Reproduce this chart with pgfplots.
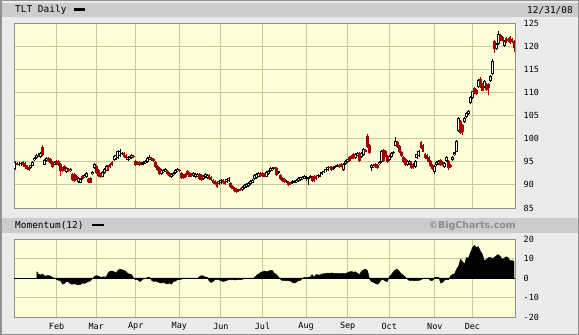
\documentclass[border=0pt]{standalone}
\usepackage{pgfplots}
\pgfplotsset{compat=1.18}
\usepackage{pgfplotstable}
\usepackage{fontspec}
\newfontfamily\pix{DejaVu Sans Mono}
\newfontfamily\bcf{DejaVu Sans}
\definecolor{bgouter}{HTML}{EBEBEB}
\definecolor{band}{HTML}{CCCCCC}
\definecolor{plotbg}{HTML}{FFFFD8}
\definecolor{gridc}{HTML}{C9C996}
\definecolor{candred}{HTML}{A00000}
\definecolor{framec}{HTML}{909090}

\pgfplotstableread{
d o h l c
0 93.4 95.1 93.2 94.9
2 94.4 94.9 94.1 94.6
3 94.3 95.0 94.1 94.8
8 93.7 94.4 93.5 94.2
9 94.1 95.1 94.0 94.9
10 95.3 96.1 95.1 95.9
11 95.9 96.7 95.7 96.4
13 96.0 97.1 95.8 96.9
15 94.4 95.6 94.2 95.4
16 95.2 96.1 95.0 95.9
20 94.4 95.2 94.2 95.0
26 92.8 93.8 92.6 93.6
28 92.9 93.6 92.7 93.4
32 90.6 91.7 90.4 91.5
33 90.5 91.4 90.3 91.2
35 91.7 92.4 91.5 92.2
36 91.6 92.7 91.4 92.5
39 92.3 93.0 92.1 92.8
40 93.6 94.8 93.4 94.6
44 91.8 93.0 91.6 92.8
45 92.6 93.6 92.4 93.4
46 93.1 94.2 92.9 94.0
50 95.4 96.4 95.2 96.2
51 95.6 96.6 95.4 96.4
52 95.9 97.5 95.7 97.3
53 96.2 97.8 96.0 97.4
54 96.6 97.1 96.4 96.8
57 95.4 96.2 95.2 96.0
58 95.6 96.3 95.4 96.1
59 95.8 96.7 95.6 96.5
64 94.4 95.0 94.2 94.8
65 94.6 95.2 94.4 95.0
66 94.7 95.4 94.5 95.2
67 95.0 96.0 94.8 95.8
68 95.6 96.4 95.4 96.1
74 92.4 93.4 92.2 93.2
75 92.8 93.5 92.6 93.3
76 92.9 93.7 92.7 93.5
79 91.7 92.6 91.5 92.4
80 92.1 92.8 91.9 92.6
81 92.5 93.4 92.3 93.2
82 92.9 93.6 92.7 93.4
90 92.0 92.7 91.8 92.5
91 91.6 92.5 91.4 92.3
92 91.8 92.6 91.6 92.4
95 91.3 92.1 91.1 91.9
96 91.6 92.5 91.4 92.3
97 91.5 92.4 91.3 92.2
103 90.2 91.1 90.0 90.9
104 90.4 91.2 90.2 91.0
107 90.6 91.4 90.4 91.2
108 90.9 91.6 90.7 91.4
115 88.9 89.7 88.7 89.5
116 89.3 90.1 89.1 89.9
117 89.5 90.4 89.3 90.2
118 89.8 90.6 89.6 90.4
119 90.2 91.0 90.0 90.8
120 90.5 91.2 90.3 91.0
121 91.2 92.3 91.0 92.1
122 91.5 92.6 91.3 92.4
123 91.8 92.7 91.6 92.5
127 91.8 93.0 91.6 92.8
128 92.3 93.3 92.1 93.1
129 92.9 93.8 92.7 93.6
130 93.2 93.9 93.0 93.7
133 92.6 93.1 92.4 92.9
137 90.7 91.1 90.5 90.9
140 90.4 91.0 90.2 90.8
141 90.5 91.1 90.3 90.9
142 90.6 91.3 90.4 91.1
143 90.8 91.6 90.6 91.4
144 91.0 91.8 90.8 91.6
145 91.2 92.0 91.0 91.8
146 91.4 92.1 91.2 91.9
147 91.3 91.9 90.9 91.7
148 91.2 91.8 90.0 91.6
149 91.6 92.1 91.4 91.9
153 91.6 92.3 91.4 92.1
154 91.8 92.4 91.6 92.2
155 92.4 93.0 92.2 92.8
156 92.8 93.2 92.6 93.0
157 93.0 93.7 92.8 93.5
158 93.3 94.0 93.1 93.8
161 93.5 94.1 93.3 93.9
162 93.8 94.3 93.6 94.1
163 94.0 94.5 93.8 94.3
166 93.3 94.8 93.1 94.6
167 94.5 95.4 94.3 95.2
168 95.0 95.7 94.8 95.5
172 95.8 96.8 95.6 96.6
173 96.4 97.1 96.2 96.9
175 96.0 97.0 95.8 96.8
176 96.4 98.0 96.2 97.8
180 93.7 94.5 92.9 94.3
181 93.9 94.6 93.7 94.4
184 94.5 95.2 94.3 95.0
185 95.0 97.6 94.8 97.4
189 95.4 96.4 95.2 96.2
190 96.0 97.1 95.8 96.9
191 96.8 97.4 96.6 97.2
192 98.5 100.3 98.3 99.5
198 94.3 95.3 94.1 95.1
199 94.6 95.4 94.4 95.2
202 93.8 95.4 93.6 95.2
203 95.8 96.8 95.6 96.6
204 96.3 97.6 96.1 97.4
212 92.8 94.2 92.4 94.0
213 94.2 95.2 94.0 95.0
214 94.6 95.4 94.4 95.2
217 93.9 95.0 93.7 94.8
218 95.2 96.2 95.0 96.0
221 95.4 96.2 95.2 96.0
222 96.4 97.2 96.2 97.0
223 97.2 99.6 97.0 99.4
224 101.6 104.7 101.4 104.5
227 103.6 104.6 103.4 104.4
228 104.6 105.7 104.4 105.5
229 105.3 106.1 105.1 105.9
230 107.6 109.2 107.4 109.0
231 108.8 110.4 108.6 110.2
234 111.2 112.8 111.0 112.6
237 111.2 112.6 111.0 112.4
240 112.4 113.7 112.2 113.5
241 113.9 117.3 113.7 116.8
243 119.4 120.7 119.2 120.5
244 120.4 123.2 120.2 122.6
247 120.1 121.4 119.9 121.2
}\up

\pgfplotstableread{
d o h l c
1 94.7 94.9 94.2 94.4
4 94.9 95.1 94.0 94.2
5 94.8 95.0 93.6 93.9
6 94.2 94.4 93.2 93.4
7 93.8 94.0 93.1 93.3
12 96.5 96.8 96.0 96.2
14 98.1 98.6 96.2 96.4
17 95.8 96.0 95.0 95.2
18 95.6 95.8 94.6 94.8
19 95.0 95.2 93.7 93.9
21 95.1 95.4 94.4 94.6
22 95.2 95.4 94.1 94.3
23 94.5 94.8 92.0 93.1
24 93.6 93.9 92.7 92.9
25 94.0 94.2 92.9 93.1
27 93.4 93.6 92.7 92.9
29 92.4 92.6 90.8 91.0
30 92.3 92.5 90.7 90.9
31 92.0 92.2 91.0 91.2
34 92.0 92.2 91.1 91.3
37 91.2 91.4 90.4 90.6
38 91.4 91.6 90.3 90.5
41 94.0 94.2 92.4 92.6
42 93.2 93.4 91.8 92.0
43 92.4 92.6 91.4 91.6
47 94.2 94.4 93.1 93.3
48 94.6 94.8 93.6 93.8
49 95.0 95.2 94.0 94.2
55 96.8 97.0 95.9 96.1
56 96.4 96.6 95.6 95.8
60 96.3 96.5 95.8 96.0
61 95.1 95.3 94.0 94.2
62 95.0 95.2 94.3 94.5
63 94.9 95.1 94.0 94.2
69 95.8 96.0 95.2 95.4
70 95.6 95.8 94.9 95.1
71 94.9 95.1 93.7 93.9
72 94.0 94.2 93.0 93.2
73 93.6 93.8 92.2 92.4
77 93.0 93.2 92.2 92.4
78 92.6 92.8 91.8 92.0
83 93.2 93.4 92.7 92.9
84 92.5 92.7 91.2 91.4
85 92.2 92.4 91.3 91.5
86 92.3 92.5 91.4 91.6
87 93.0 93.3 92.1 92.3
88 92.6 92.8 91.6 91.8
89 92.4 92.6 91.7 91.9
93 92.4 92.6 91.1 91.3
94 92.2 92.4 90.9 91.1
98 92.1 92.3 91.0 91.2
99 91.8 92.0 90.8 91.0
100 91.0 91.2 90.1 90.3
101 90.8 91.0 90.0 90.2
102 90.6 90.8 89.3 89.5
105 91.1 91.3 90.1 90.3
106 90.8 91.0 90.0 90.2
109 90.5 90.7 89.4 89.6
110 89.8 90.0 89.0 89.2
111 89.4 89.6 88.4 88.6
112 89.2 89.4 88.3 88.5
113 89.0 89.2 88.4 88.6
114 89.2 89.4 88.6 88.8
124 92.6 92.8 91.7 91.9
125 92.5 92.7 91.8 92.0
126 92.4 92.6 91.6 91.8
131 93.7 93.9 93.4 93.6
132 93.7 93.9 92.0 92.2
134 92.1 92.3 91.1 91.3
135 91.5 91.7 90.6 90.8
136 91.2 91.4 90.5 90.7
138 90.6 90.8 89.7 89.9
139 90.4 90.6 89.9 90.1
150 91.8 92.0 90.7 90.9
151 91.9 92.1 90.6 90.8
152 92.0 92.2 91.1 91.3
159 93.8 94.0 93.4 93.6
160 93.9 94.1 93.1 93.3
164 94.3 94.5 93.7 93.9
165 94.5 94.7 93.8 94.0
169 96.0 96.2 95.0 95.2
170 96.3 96.5 95.5 95.7
171 96.6 96.8 95.6 95.8
174 96.9 97.1 94.9 95.2
177 97.5 97.7 97.0 97.2
178 100.5 100.9 98.0 98.2
179 98.6 98.8 96.7 96.9
182 94.6 94.8 93.7 93.9
183 94.4 94.6 93.4 93.6
186 97.5 97.7 95.0 95.2
187 97.4 97.6 96.0 96.2
188 96.2 96.4 94.8 95.0
193 99.2 99.4 97.9 98.1
194 98.4 98.6 96.8 97.0
195 97.2 97.4 96.1 96.3
196 96.0 96.2 94.8 95.0
197 95.6 95.8 94.0 94.2
200 94.9 95.1 93.5 93.7
201 94.5 94.7 93.4 93.6
205 99.2 99.5 97.7 97.9
206 98.6 98.8 97.0 97.2
207 96.7 96.9 95.6 95.8
208 96.4 96.6 95.4 95.6
209 96.0 96.2 94.8 95.0
210 95.2 95.4 93.8 94.0
211 94.4 94.6 93.2 93.4
215 95.3 95.5 94.1 94.3
216 94.9 95.1 94.0 94.2
219 95.2 95.4 93.2 93.6
220 94.4 94.6 93.6 93.8
225 103.8 104.0 101.1 101.3
226 103.0 103.2 100.8 101.5
232 110.9 111.1 109.6 109.8
233 110.6 110.8 109.4 109.6
235 112.9 113.3 111.0 111.2
236 111.8 112.0 110.2 110.4
238 111.8 112.0 110.4 110.6
239 111.9 112.1 109.4 110.9
242 121.1 121.3 118.6 119.3
245 122.4 122.6 121.0 121.2
246 121.9 122.1 121.0 121.2
248 121.8 122.0 120.7 120.9
249 121.6 121.8 120.8 121.0
250 122.0 122.2 120.4 120.6
251 121.6 121.8 120.6 120.8
252 121.2 121.4 118.8 119.5
}\dn

\pgfplotstableread{
d m
11 3.2
12 1.8
13 1.6
14 2.0
15 0.9
16 1.2
17 1.2
18 1.0
19 0.1
20 0.0
21 -0.8
22 -1.2
23 -1.4
24 -3.2
25 -2.8
26 -1.8
27 -2.0
28 -3.0
29 -3.2
30 -2.9
31 -3.3
32 -3.5
33 -3.4
34 -2.6
35 -2.8
36 -2.4
37 -1.8
38 -1.6
39 -0.3
40 0.6
41 1.2
42 1.0
43 0.5
44 0.5
45 0.6
46 0.5
47 2.5
48 3.5
49 3.6
50 3.2
51 2.6
52 3.9
53 4.6
54 4.2
55 4.0
56 3.4
57 2.3
58 2.0
59 1.6
60 -0.4
61 -0.9
62 -0.8
63 -1.8
64 -1.2
65 -0.3
66 -0.3
67 0.4
68 0.4
69 -1.2
70 -1.8
71 -1.6
72 -2.0
73 -2.4
74 -2.6
75 -2.2
76 -2.8
77 -3.0
78 -2.6
79 -3.2
80 -1.8
81 -1.6
82 -0.9
83 -0.9
84 -0.6
85 -0.3
86 -0.3
87 -0.4
88 -0.3
89 -0.2
90 -0.3
91 -0.4
92 -0.3
93 0.5
94 1.2
95 1.1
96 0.5
97 0.5
98 -1.4
99 -2.3
100 -1.8
101 -0.9
102 -0.8
103 -0.9
104 -1.4
105 -1.8
106 -1.6
107 -1.2
108 -0.9
109 -0.8
110 -0.9
111 -1.0
112 -0.9
113 -0.8
114 -0.9
115 -0.6
116 -0.3
117 -0.3
118 -0.2
119 -0.3
120 -0.2
121 0.2
122 1.4
123 2.0
124 2.8
125 3.2
126 3.6
127 3.2
128 3.5
129 3.9
130 3.8
131 2.4
132 1.8
133 0.6
134 -0.5
135 -1.4
136 -1.4
137 -1.3
138 -1.4
139 -1.5
140 -2.2
141 -2.6
142 -2.2
143 -1.4
144 -1.3
145 -0.4
146 0.3
147 0.2
148 0.3
149 0.3
150 1.8
151 0.4
152 1.8
153 1.6
154 1.5
155 2.1
156 2.2
157 2.3
158 2.5
159 2.4
160 2.6
161 2.4
162 2.3
163 2.4
164 2.2
165 2.3
166 2.4
167 2.2
168 2.8
169 3.2
170 3.3
171 3.0
172 3.2
173 2.4
174 1.8
175 3.5
176 4.2
177 4.6
178 3.8
179 -0.3
180 -1.8
181 -2.2
182 -2.8
183 -3.2
184 -2.4
185 -0.9
186 -0.8
187 -1.6
188 -1.8
189 0.5
190 1.8
191 3.0
192 4.2
193 4.4
194 3.4
195 2.2
196 1.6
197 0.5
198 -0.4
199 -1.2
200 -1.4
201 -1.4
202 -1.3
203 -1.4
204 -1.2
205 -1.0
206 -0.3
207 -0.3
208 -0.4
209 -0.3
210 -1.4
211 -1.2
212 0.3
213 0.4
214 0.3
215 -2.6
216 -2.2
217 -0.9
218 -0.8
219 -0.9
220 1.2
221 1.8
222 2.2
223 4.5
224 6.1
225 9.6
226 8.5
227 7.0
228 10.5
229 10.2
230 13.0
231 15.5
232 16.7
233 15.6
234 16.1
235 13.8
236 12.3
237 8.8
238 9.5
239 10.5
240 10.6
241 10.0
242 10.4
243 11.4
244 12.0
245 11.2
246 9.6
247 10.2
248 10.9
249 10.4
250 8.8
251 9.0
252 8.6
}\mom

\pgfplotsset{
  chartbase/.style={
    scale only axis, anchor=south west,
    xmin=-0.5, xmax=252.5,
    axis background/.style={fill=plotbg},
    grid=major,
    major grid style={gridc, line width=0.9bp},
    major tick length=0,
    xtick={21,41,61,83,104,125,147,168,189,212,231},
    yticklabel pos=right,
    yticklabel style={anchor=west, inner sep=0pt, xshift=8.5bp, font=\pix\fontsize{8.5}{9}\selectfont},
    axis line style={framec, line width=0.8bp},
  },
  errbase/.style={only marks, mark=*, mark size=0pt,
    mark options={draw=none, fill=none}, forget plot,
    error bars/y dir=plus, error bars/y explicit, error bars/error mark=none},
}

\begin{document}
\begin{tikzpicture}
\useasboundingbox (0,0) rectangle (579bp,335bp);
\fill[bgouter] (0,0) rectangle (579bp,335bp);
\fill[band] (1.5bp,318bp) rectangle (579bp,332bp);
\fill[band] (1.5bp,102bp) rectangle (579bp,117bp);
\draw[framec, line width=1.5bp] (0.75bp,0.75bp) rectangle (578.25bp,334.25bp);

\node[anchor=west, inner sep=0pt, font=\pix\fontsize{9.5}{10}\selectfont] at (15bp,325bp) {TLT Daily};
\fill[black] (74bp,324bp) rectangle (85bp,326.5bp);
\node[anchor=east, inner sep=0pt, font=\pix\fontsize{9.5}{10}\selectfont] at (573bp,325bp) {12/31/08};
\node[anchor=west, inner sep=0pt, font=\pix\fontsize{9.5}{10}\selectfont] at (15bp,109.5bp) {Momentum(12)};
\fill[black] (92bp,108.5bp) rectangle (104bp,111bp);
\node[anchor=east, inner sep=0pt, text=black!45, font=\bcf\bfseries\fontsize{9.5}{10}\selectfont] at (516bp,109.5bp) {©BigCharts.com};

\begin{axis}[chartbase,
  at={(14bp,127bp)}, width=501bp, height=185bp,
  ymin=85, ymax=125,
  ytick={85,90,95,100,105,110,115,120,125},
  yticklabels={85,90,95,100,105,110,115,120,125},
  xticklabels={}]
% hollow candles: wicks and bodies
\addplot[errbase, error bars/error bar style={black, line width=0.7bp}]
  table[x=d, y=l, y error expr=\thisrow{h}-\thisrow{l}] {\up};
\addplot[errbase, error bars/error bar style={black, line width=3.0bp}]
  table[x=d, y=o, y error expr={max(\thisrow{c}-\thisrow{o},0.22)}] {\up};
\addplot[errbase, error bars/error bar style={white, line width=1.0bp}]
  table[x=d, y expr=\thisrow{o}+0.22, y error expr={max(\thisrow{c}-\thisrow{o}-0.44,0)}] {\up};
% red candles
\addplot[errbase, error bars/error bar style={candred, line width=0.7bp}]
  table[x=d, y=l, y error expr=\thisrow{h}-\thisrow{l}] {\dn};
\addplot[errbase, error bars/error bar style={candred, line width=2.8bp}]
  table[x=d, y=c, y error expr={max(\thisrow{o}-\thisrow{c},0.22)}] {\dn};
\end{axis}

\begin{axis}[chartbase,
  at={(14bp,18bp)}, width=501bp, height=78bp,
  ymin=-20, ymax=20,
  ytick={-20,-10,0,10,20},
  yticklabels={-20,-10,0,10,20},
  xticklabels={Feb,Mar,Apr,May,Jun,Jul,Aug,Sep,Oct,Nov,Dec},
  xticklabel style={anchor=center, inner sep=0pt, yshift=-9bp, font=\pix\fontsize{8.5}{9}\selectfont}]
\addplot[black, fill=black, line width=0.4bp] table[x=d, y=m] {\mom} \closedcycle;
\addplot[black, line width=0.9bp] coordinates {(-0.5,0) (252.5,0)};
\end{axis}
\end{tikzpicture}
\end{document}
